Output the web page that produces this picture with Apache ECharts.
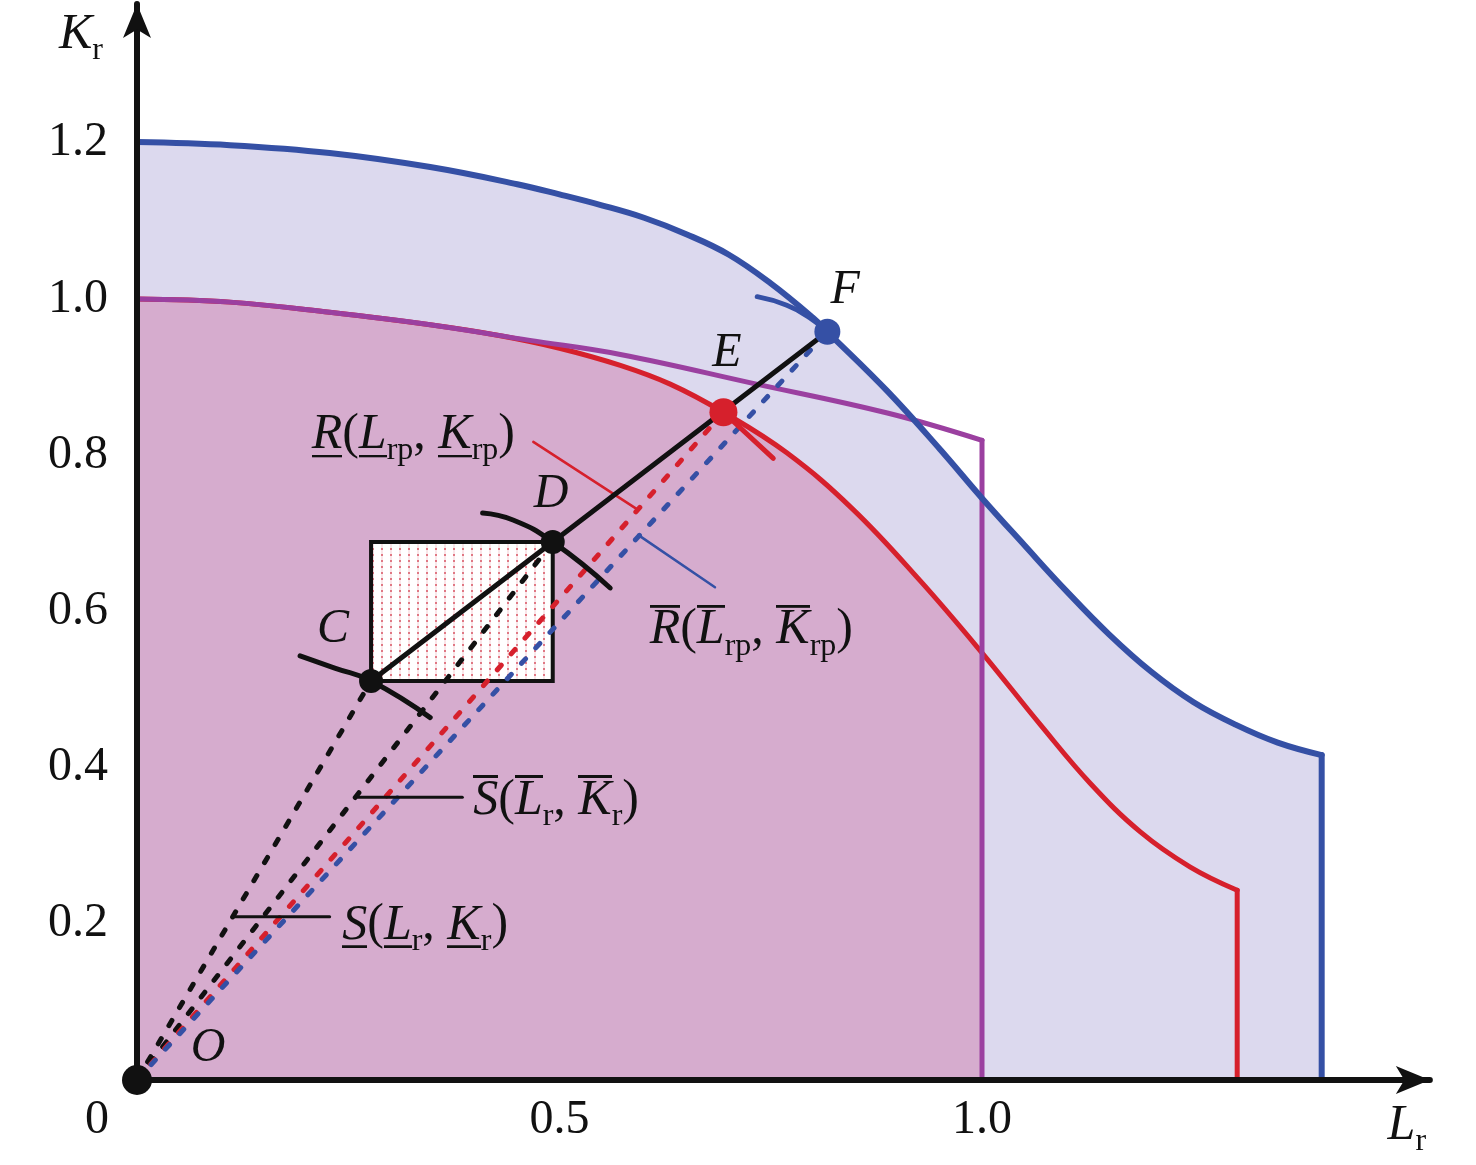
<!DOCTYPE html>
<html><head><meta charset="utf-8">
<script src="https://cdn.jsdelivr.net/npm/echarts@6/dist/echarts.min.js"></script>
<style>html,body{margin:0;padding:0;background:#fff}#c{width:1476px;height:1165px}</style>
</head><body><div id="c"></div>
<script>
// ---------------- data ----------------
const blueCurve = [[0,1.201],[0.11,1.197],[0.228,1.187],[0.347,1.169],[0.45,1.147],[0.5,1.134],[0.55,1.120],[0.6,1.104],[0.65,1.083],[0.7,1.057],[0.75,1.020],[0.8,0.976],[0.817,0.958],[0.888,0.882],[0.95,0.808],[1.0,0.745],[1.05,0.685],[1.1,0.626],[1.15,0.571],[1.2,0.523],[1.25,0.484],[1.3,0.455],[1.35,0.432],[1.402,0.416]];
const purpleCurve = [[0,1.0],[0.11,0.996],[0.228,0.983],[0.347,0.967],[0.465,0.947],[0.572,0.929],[0.729,0.892],[0.888,0.854],[1.0,0.819]];
const redCurve = [[0,1.0],[0.11,0.996],[0.228,0.983],[0.347,0.967],[0.43,0.953],[0.5,0.937],[0.572,0.915],[0.631,0.891],[0.694,0.855],[0.769,0.803],[0.847,0.731],[0.927,0.639],[1.0,0.547],[1.069,0.455],[1.128,0.380],[1.187,0.318],[1.246,0.273],[1.302,0.243]];
const blueCut = 1.402, redCut = 1.302, purpleCut = 1.0;
const ptO = [0,0], ptC = [0.277,0.511], ptD = [0.492,0.689], ptE = [0.694,0.855], ptF = [0.817,0.958];
const arcC = [[0.193,0.543],[0.234,0.5275],[0.277,0.511],[0.347,0.464]];
const arcD = [[0.409,0.726],[0.445,0.717],[0.492,0.689],[0.56,0.63]];
const arcF = [[0.734,1.003],[0.769,0.992],[0.796,0.976],[0.817,0.958]];
const stubE = [[0.694,0.855],[0.753,0.796]];
const leaderR = [[0.469,0.817],[0.593,0.730]];
const leaderRbar = [[0.593,0.698],[0.684,0.631]];
const leaderSbar = [[0.262,0.362],[0.385,0.362]];
const leaderS = [[0.113,0.209],[0.228,0.209]];
const xTicks = [0.5, 1.0], xTickLabels = ['0.5', '1.0'];
const yTicks = [0.2, 0.4, 0.6, 0.8, 1.0, 1.2], yTickLabels = ['0.2','0.4','0.6','0.8','1.0','1.2'];
// annotation text anchors (layout)
const annotations = [
  {at:[0.232,0.577], text:'{L|C}'},
  {at:[0.490,0.750], text:'{L|D}'},
  {at:[0.698,0.931], text:'{L|E}'},
  {at:[0.838,1.011], text:'{L|F}'},
  {at:[0.084,0.041], text:'{L|O}'},
  {at:[0.327,0.826], text:'{iu|R}{n|(}{iu|L}{s|rp}{n|, }{iu|K}{s|rp}{n|)}'},
  {at:[0.727,0.576], text:'{io|R}{n|(}{io|L}{s|rp}{n|, }{io|K}{s|rp}{n|)}'},
  {at:[0.496,0.358], text:'{io|S}{n|(}{io|L}{s|r}{n|, }{io|K}{s|r}{n|)}'},
  {at:[0.341,0.198], text:'{iu|S}{n|(}{iu|L}{s|r}{n|, }{iu|K}{s|r}{n|)}'}
];

// ---------------- styles ----------------
const serif = "'Liberation Serif','Times New Roman',serif";
const ink = '#111111';
const BLUE = '#3550a5', PURPLE = '#9b40a0', RED = '#d6202c', LAV = '#dcd9ee', PINK = '#d6acce';

function lineCanvas(fromFrac, toFrac) {
  const c = document.createElement('canvas'); c.width = 4; c.height = 100;
  const g = c.getContext('2d'); g.fillStyle = ink;
  g.fillRect(0, Math.round(fromFrac*100), 4, Math.round((toFrac-fromFrac)*100));
  return c;
}
const ulImg = lineCanvas(0.90, 0.95);
const olImg = lineCanvas(0.00, 0.05);
const pat = document.createElement('canvas'); pat.width = 9; pat.height = 6;
(function(){ const g = pat.getContext('2d'); g.fillStyle = '#fff'; g.fillRect(0,0,9,6);
  g.fillStyle = '#fae6e9'; g.fillRect(3,0,2,6); g.fillStyle = '#e07884'; g.fillRect(3,2,2,2); })();

const rich = {
  L: {fontFamily: serif, fontStyle:'italic', fontSize:48, color: ink},
  i: {fontFamily: serif, fontStyle:'italic', fontSize:50, color: ink},
  n: {fontFamily: serif, fontSize:50, color: ink},
  s: {fontFamily: serif, fontSize:32, color: ink, padding:[32,0,0,0]},
  iu: {fontFamily: serif, fontStyle:'italic', fontSize:50, color: ink, backgroundColor:{image: ulImg}},
  io: {fontFamily: serif, fontStyle:'italic', fontSize:50, color: ink, backgroundColor:{image: olImg}},
  z: {fontFamily: serif, fontSize:48, color: ink, padding:[0,80,0,0]}
};

const pxPerX = 845, pxPerY = 781, gLeft = 137, gTop = 4, gBottom = 85;
const xMax = 1.530, yMax = (1165 - gTop - gBottom) / pxPerY;

function lineSeries(data, color, width, z, extra) {
  return Object.assign({type:'line', data, showSymbol:false, symbol:'none', z, silent:true,
    lineStyle:{color, width, cap:'round', join:'round'}}, extra || {});
}
function tickFmt(ticks, labels, zero) {
  return v => { const k = ticks.findIndex(t => Math.abs(t - v) < 1e-6);
    if (k >= 0) return labels[k]; if (zero && Math.abs(v) < 1e-9) return '{z|0}'; return ''; };
}

const chart = echarts.init(document.getElementById('c'), null, {renderer:'canvas'});
const dash = {type:[6,15], cap:'round', width:5};
chart.setOption({
  animation:false,
  backgroundColor:'#fff',
  grid:{left:gLeft, top:gTop, bottom:gBottom, right: 1476 - gLeft - xMax*pxPerX, containLabel:false, outerBoundsMode:'none'},
  xAxis:{type:'value', min:0, max:xMax, interval:0.5, z:10,
    axisLine:{show:true, onZero:false, symbol:['none','arrow'], symbolSize:[21,34], lineStyle:{color:'#111', width:6}},
    axisTick:{show:false}, splitLine:{show:false},
    axisLabel:{margin:16, fontFamily:serif, fontSize:48, color:ink, formatter: tickFmt(xTicks, xTickLabels, true), rich},
    name:'{i|L}{s|r}', nameLocation:'end', nameGap:-23,
    nameTextStyle:{align:'center', verticalAlign:'top', padding:[14,0,0,0], rich}},
  yAxis:{type:'value', min:0, max:yMax, interval:0.2, z:10,
    axisLine:{show:true, onZero:false, symbol:['none','arrow'], symbolSize:[21,34], lineStyle:{color:'#111', width:6}},
    axisTick:{show:false}, splitLine:{show:false},
    axisLabel:{margin:29, fontFamily:serif, fontSize:48, color:ink, formatter: tickFmt(yTicks, yTickLabels, false)},
    name:'{i|K}{s|r}', nameLocation:'end', nameGap:-31,
    nameTextStyle:{align:'right', verticalAlign:'middle', padding:[0,34,0,0], rich}},
  series:[
    lineSeries(blueCurve, BLUE, 0, 1, {smooth:0.4, lineStyle:{width:0, opacity:0}, areaStyle:{color:LAV, opacity:1}}),
    lineSeries(redCurve.filter(p => p[0] <= purpleCut), RED, 0, 1.1, {smooth:0.4, lineStyle:{width:0, opacity:0}, areaStyle:{color:PINK, opacity:1}}),
    {type:'custom', z:2, silent:true, data:[[ptC[0], ptC[1], ptD[0], ptD[1]]], encode:{x:[0,2], y:[1,3]},
      renderItem:(params, api) => {
        const a = api.coord([api.value(0), api.value(1)]), b = api.coord([api.value(2), api.value(3)]);
        return {type:'rect', shape:{x:a[0], y:b[1], width:b[0]-a[0], height:a[1]-b[1]},
          style:{fill:{image:pat, repeat:'repeat'}, stroke:'#111', lineWidth:4}};
      }},
    lineSeries(redCurve, RED, 5, 3, {smooth:0.4}),
    lineSeries([[redCut, redCurve[redCurve.length-1][1]],[redCut,0]], RED, 5, 3),
    lineSeries(purpleCurve, PURPLE, 5, 3.1, {smooth:0.4}),
    lineSeries([[purpleCut, purpleCurve[purpleCurve.length-1][1]],[purpleCut,0]], PURPLE, 5, 3.1),
    lineSeries(blueCurve, BLUE, 6, 3.2, {smooth:0.4}),
    lineSeries([[blueCut, blueCurve[blueCurve.length-1][1]],[blueCut,0]], BLUE, 6, 3.2),
    lineSeries([ptO, ptC], '#111', 5, 4, {lineStyle:Object.assign({color:'#111'}, dash)}),
    lineSeries([ptO, ptD], '#111', 5, 4, {lineStyle:Object.assign({color:'#111'}, dash)}),
    lineSeries([ptO, ptE], RED, 5, 4, {lineStyle:Object.assign({color:RED}, dash)}),
    lineSeries([ptO, ptF], BLUE, 5, 4, {lineStyle:Object.assign({color:BLUE}, dash)}),
    lineSeries(leaderR, RED, 2.5, 4.5),
    lineSeries(leaderRbar, BLUE, 2.5, 4.5),
    lineSeries(leaderSbar, '#111', 3, 4.5),
    lineSeries(leaderS, '#111', 3, 4.5),
    lineSeries([ptC, ptF], '#111', 5, 5),
    lineSeries(arcC, '#111', 5, 5, {smooth:0.5}),
    lineSeries(arcD, '#111', 5, 5, {smooth:0.5}),
    lineSeries(arcF, BLUE, 5, 5, {smooth:0.5}),
    lineSeries(stubE, RED, 5, 5),
    {type:'scatter', z:6, silent:true, data:[ptC, ptD], symbolSize:24, itemStyle:{color:'#111', opacity:1}},
    {type:'scatter', z:6, silent:true, data:[ptE], symbolSize:28, itemStyle:{color:RED, opacity:1}},
    {type:'scatter', z:6, silent:true, data:[ptF], symbolSize:26, itemStyle:{color:BLUE, opacity:1}},
    {type:'scatter', z:12, silent:true, data:[ptO], symbolSize:30, itemStyle:{color:'#111', opacity:1}},
    {type:'scatter', z:8, silent:true, symbolSize:1, itemStyle:{color:'rgba(0,0,0,0)', opacity:1},
      data: annotations.map(a => ({value:a.at, text:a.text})),
      label:{show:true, position:'inside', align:'center', verticalAlign:'middle', opacity:1,
        formatter: p => p.data.text, rich}}
  ]
});
</script></body></html>
